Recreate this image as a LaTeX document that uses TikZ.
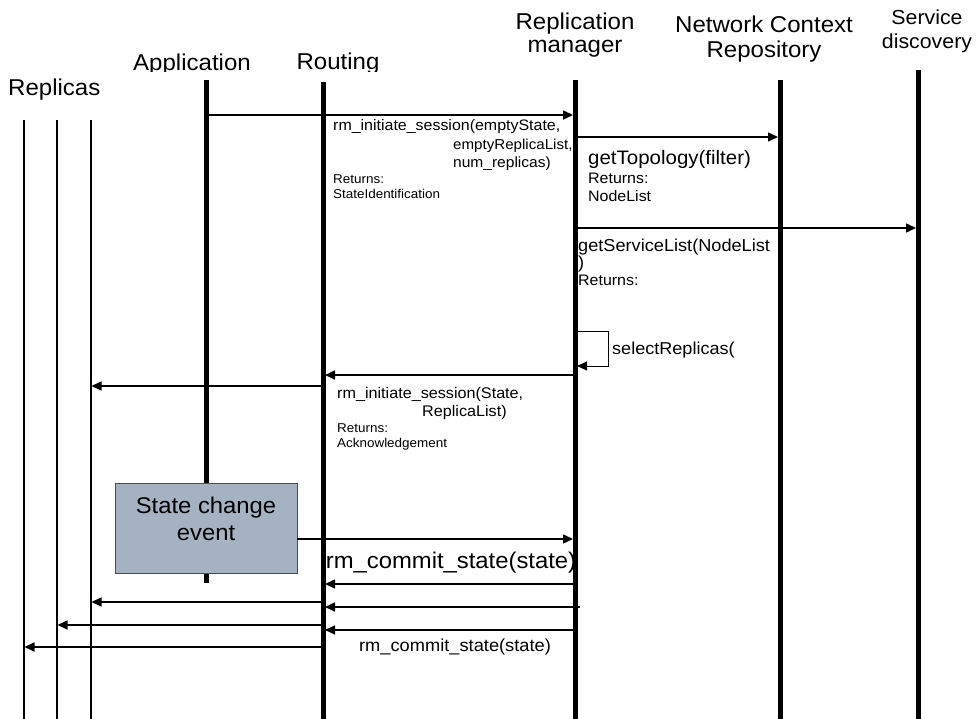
\documentclass[tikz,border=0pt]{standalone}
\usepackage{fontspec}
\setmainfont[FakeStretch=1.05]{Liberation Sans}
\usetikzlibrary{arrows.meta}

\newcommand\fsz[1]{\fontsize{#1}{#1}\selectfont}

\tikzset{
  lifeline/.style={line width=5pt},
  replicaline/.style={line width=1.4pt},
  msg/.style={line width=1.6pt, -{Triangle[length=10pt,width=9pt]}},
  loopmsg/.style={line width=1pt, -{Triangle[length=10pt,width=9pt]}},
  head/.style={inner sep=0, anchor=base, font=\fsz{22.9}},
  lbl/.style={inner sep=0, anchor=base west},
  eventbox/.style={draw=black!70, line width=0.8pt, fill=evfill,
                   minimum width=182pt, minimum height=90pt, inner sep=0}
}
\definecolor{evfill}{HTML}{A4B2C2}

\begin{document}
\begin{tikzpicture}[x=1pt,y=-1pt]
\useasboundingbox (0,0) rectangle (980,719);

% participants
\begin{scope}
  \clip (100,0) rectangle (420,72);
  \node[head] (happ) at (192,71) {Application};
  \node[head] (hrout) at (338,70) {Routing};
\end{scope}
\node[head] (hrm1) at (575,30) {Replication};
\node[head] (hrm2) at (575,53) {manager};
\node[head] (hncr1) at (764,33) {Network Context};
\node[head] (hncr2) at (764,58) {Repository};
\node[head, font=\fsz{20.3}] (hsd1) at (927,25) {Service};
\node[head, font=\fsz{20.3}] (hsd2) at (927,49) {discovery};
\node[head, anchor=base west] (hrep) at (8,96) {Replicas};

% lifelines
\coordinate (appT) at (206,80);  \coordinate (appB) at (206,583);
\coordinate (routT) at (323,82); \coordinate (routB) at (323,719);
\coordinate (rmT) at (575,80);   \coordinate (rmB) at (575,719);
\coordinate (ncrT) at (780,80);  \coordinate (ncrB) at (780,719);
\coordinate (sdT) at (918,70);   \coordinate (sdB) at (918,719);
\coordinate (r1T) at (24,120);   \coordinate (r1B) at (24,719);
\coordinate (r2T) at (57,120);   \coordinate (r2B) at (57,719);
\coordinate (r3T) at (91,120);   \coordinate (r3B) at (91,719);

\foreach \a/\b in {appT/appB, routT/routB, rmT/rmB, ncrT/ncrB, sdT/sdB}
  \draw[lifeline] (\a) -- (\b);
\foreach \a/\b in {r1T/r1B, r2T/r2B, r3T/r3B}
  \draw[replicaline] (\a) -- (\b);

% session initiation
\draw[msg, shorten >=2pt] (appT |- 0,115) -- (rmT |- 0,115);
\node[lbl, font=\fsz{15.2}] (m1a) at (333,131) {rm\_initiate\_session(emptyState,};
\node[lbl, font=\fsz{14.4}] (m1b) at (453,150) {emptyReplicaList,};
\node[lbl, font=\fsz{14.8}] (m1c) at (453,168) {num\_replicas)};
\node[lbl, font=\fsz{12.8}] (m1d) at (333,184) {Returns:};
\node[lbl, font=\fsz{12.8}] (m1e) at (333,199) {StateIdentification};

\draw[msg, shorten >=2pt] (rmT |- 0,137) -- (ncrT |- 0,137);
\node[lbl, font=\fsz{19.5}] (m2a) at (588,165) {getTopology(filter)};
\node[lbl, font=\fsz{15.2}] (m2b) at (588,184) {Returns:};
\node[lbl, font=\fsz{15.2}] (m2c) at (588,202) {NodeList};

\draw[msg, shorten >=2pt] (rmT |- 0,228) -- (sdT |- 0,228);
\node[lbl, font=\fsz{17.3}] (m3a) at (578,252) {getServiceList(NodeList};
\node[lbl, font=\fsz{17.3}] (m3b) at (578,269) {)};
\node[lbl, font=\fsz{15.2}] (m3c) at (578,286) {Returns:};

% self call
\coordinate (lpA) at (577,332);
\coordinate (lpB) at (608,332);
\coordinate (lpC) at (608,366);
\coordinate (lpD) at (577,366);
\draw[loopmsg] (lpA) -- (lpB) -- (lpC) -- (lpD);
\node[lbl, font=\fsz{17.2}] (m4) at (612,355) {selectReplicas(};

\draw[msg, shorten >=2pt] (rmT |- 0,375) -- (routT |- 0,375);
\node[lbl, font=\fsz{15.4}] (m5a) at (337,398) {rm\_initiate\_session(State,};
\node[lbl, font=\fsz{15.4}] (m5b) at (422,416) {ReplicaList)};
\node[lbl, font=\fsz{12.8}] (m5c) at (337,432) {Returns:};
\node[lbl, font=\fsz{12.8}] (m5d) at (337,447) {Acknowledgement};

\draw[msg, shorten >=0.5pt] (routT |- 0,386) -- (r3T |- 0,386);

% state change
\node[eventbox] (sce) at (206,528) {};
\node[inner sep=0, anchor=base, font=\fsz{22.7}] (sceA) at (206,513) {State change};
\node[inner sep=0, anchor=base, font=\fsz{22.7}] (sceB) at (206,540) {event};

\draw[line width=1.4pt, -{Triangle[length=10pt,width=9pt]}, shorten >=2pt]
  (sce.east |- 0,539) -- (rmT |- 0,539);
\node[inner sep=0, anchor=base, font=\fsz{22.7}] (m6) at (451,568) {rm\_commit\_state(state)};

\draw[msg, shorten >=2pt] (rmT |- 0,584) -- (routT |- 0,584);
\draw[msg, shorten >=0.5pt] (routT |- 0,602) -- (r3T |- 0,602);
\draw[msg, shorten >=2pt] ([xshift=5pt]rmT |- 0,607) -- (routT |- 0,607);
\draw[msg, shorten >=0.5pt] (routT |- 0,625) -- (r2T |- 0,625);
\draw[msg, shorten >=2pt] (rmT |- 0,630) -- (routT |- 0,630);
\draw[msg, shorten >=0.5pt] (routT |- 0,647) -- (r1T |- 0,647);
\node[inner sep=0, anchor=base, font=\fsz{17.4}] (m7) at (455,651) {rm\_commit\_state(state)};

\end{tikzpicture}
\end{document}
